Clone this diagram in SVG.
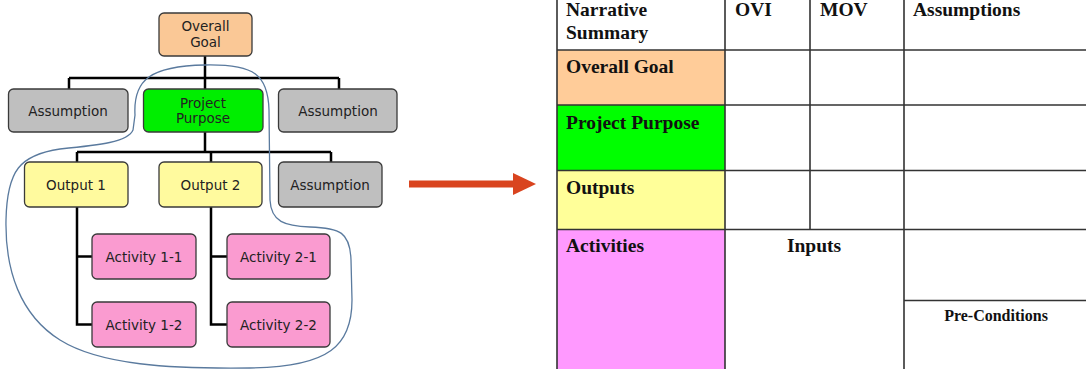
<svg xmlns="http://www.w3.org/2000/svg" width="1086" height="369" viewBox="0 0 1086 369">
<style>
.box{stroke:#3a3a3a;stroke-width:1.3}
.goal{fill:#FAC896}
.purpose{fill:#00EE00}
.assum{fill:#BFBFBF}
.out{fill:#FFFA9E}
.act{fill:#FA9BD0}
.lbl{font-family:"DejaVu Sans",Verdana,sans-serif;font-size:13.5px;fill:#222;text-anchor:middle}
.conn{fill:none;stroke:#000;stroke-width:2.5}
.lasso{fill:none;stroke:#5A7A9E;stroke-width:1.3}
.grid{stroke:#333;stroke-width:1.6;fill:none}
.th{font-family:"Liberation Serif","Times New Roman",serif;font-weight:bold;font-size:19.5px;fill:#111}
.small{font-family:"Liberation Serif","Times New Roman",serif;font-weight:bold;font-size:16px;fill:#111;text-anchor:middle}
</style>
<rect width="1086" height="369" fill="#fff"/>
<g id="connectors">
<path class="conn" d="M205,56 V78 M69,78 H339 M69,78 V89 M339,78 V89 M205,78 V89"/>
<path class="conn" d="M205,132 V152 M77,152 H331 M77,152 V162 M211,152 V162 M331,152 V162"/>
<path class="conn" d="M77,207 V324.5 H92 M77,256.5 H92"/>
<path class="conn" d="M211,207 V324.5 H227 M211,256.5 H227"/>
</g>
<g id="node-overall-goal"><rect class="box goal" x="159" y="13" width="93" height="43" rx="5"/><text class="lbl" x="205.5" y="31">Overall</text><text class="lbl" x="205.5" y="47">Goal</text></g>
<g id="node-assumption-1"><rect class="box assum" x="8.5" y="89" width="119.5" height="43" rx="5"/><text class="lbl" x="68" y="115.5">Assumption</text></g>
<g id="node-project-purpose"><rect class="box purpose" x="143.5" y="89" width="119.5" height="43" rx="5"/><text class="lbl" x="203" y="107.5">Project</text><text class="lbl" x="203" y="123">Purpose</text></g>
<g id="node-assumption-2"><rect class="box assum" x="278.5" y="89" width="118.5" height="43" rx="5"/><text class="lbl" x="338" y="115.5">Assumption</text></g>
<g id="node-output-1"><rect class="box out" x="24.5" y="162" width="103.5" height="45" rx="5"/><text class="lbl" x="76" y="189.5">Output 1</text></g>
<g id="node-output-2"><rect class="box out" x="159" y="162" width="103" height="45" rx="5"/><text class="lbl" x="210.5" y="189.5">Output 2</text></g>
<g id="node-assumption-3"><rect class="box assum" x="278.5" y="162" width="103.5" height="45" rx="5"/><text class="lbl" x="330" y="189.5">Assumption</text></g>
<g id="node-activity-1-1"><rect class="box act" x="92" y="234" width="104" height="45" rx="5"/><text class="lbl" x="144" y="261.5">Activity 1-1</text></g>
<g id="node-activity-1-2"><rect class="box act" x="92" y="302" width="104" height="45" rx="5"/><text class="lbl" x="144" y="329.5">Activity 1-2</text></g>
<g id="node-activity-2-1"><rect class="box act" x="227" y="234" width="103" height="45" rx="5"/><text class="lbl" x="278.5" y="261.5">Activity 2-1</text></g>
<g id="node-activity-2-2"><rect class="box act" x="227" y="302" width="103" height="45" rx="5"/><text class="lbl" x="278.5" y="329.5">Activity 2-2</text></g>
<path class="lasso" d="M135,115 C133,80 150,66 205,65 C255,64 268,75 269,110 L270,200 C271,222 285,226 310,227 C340,228 350,232 351,260 L352,300 C352,345 330,367 250,368 C170,369 100,365 60,340 C20,315 5,270 6,220 C7,170 20,155 60,149 C100,145 128,142 133,130 Z"/>
<g id="arrow">
<rect x="409" y="180.5" width="106" height="7" fill="#D9441F"/>
<polygon points="513,173 536,184 513,195" fill="#D9441F"/>
</g>
<g id="table">
<rect x="557" y="50" width="168" height="55" fill="#FFCC99"/>
<rect x="557" y="105" width="168" height="65.5" fill="#00FF00"/>
<rect x="557" y="170.5" width="168" height="59" fill="#FFFF99"/>
<rect x="557" y="229.5" width="168" height="140" fill="#FF99FF"/>
<path class="grid" d="M557,50 H1086 M557,105 H1086 M557,170.5 H1086 M557,229.5 H1086 M904,300.5 H1086 M725,0 V369 M810,0 V229.5 M904,0 V369"/>
<path class="grid" d="M557,0 V369" stroke-width="2.6"/>
<text class="th" x="566" y="16">Narrative</text>
<text class="th" x="566" y="39">Summary</text>
<text class="th" x="735" y="16">OVI</text>
<text class="th" x="820" y="16">MOV</text>
<text class="th" x="913" y="16">Assumptions</text>
<text class="th" x="566" y="73">Overall Goal</text>
<text class="th" x="566" y="129">Project Purpose</text>
<text class="th" x="566" y="194">Outputs</text>
<text class="th" x="566" y="252">Activities</text>
<text class="th" x="814" y="252" text-anchor="middle">Inputs</text>
<text class="small" x="996" y="321">Pre-Conditions</text>
</g>
</svg>
